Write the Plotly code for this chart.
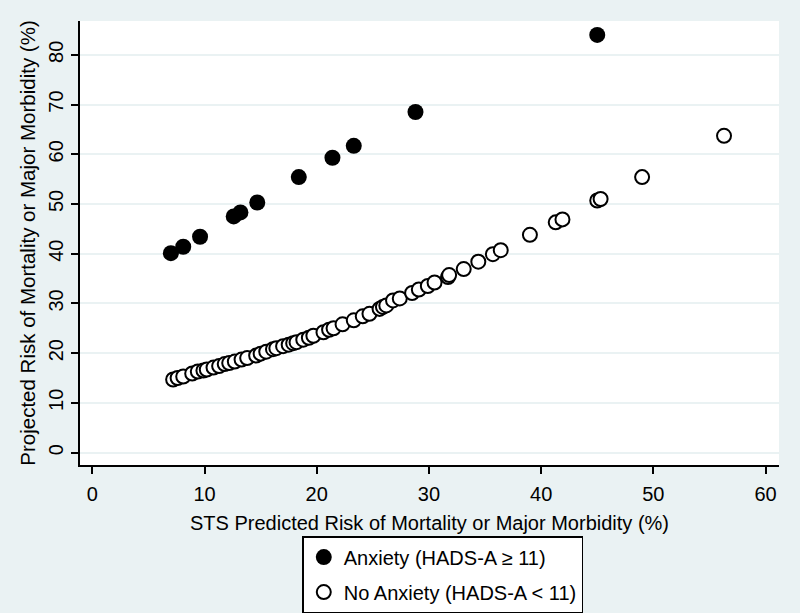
import plotly.graph_objects as go

# Anxiety (HADS-A >= 11)
x_anx = [7.0, 8.1, 9.6, 12.6, 13.2, 14.7, 18.4, 21.4, 23.3, 28.8, 45.0]
y_anx = [40.1, 41.4, 43.4, 47.5, 48.3, 50.3, 55.4, 59.3, 61.7, 68.5, 84.0]

# No Anxiety (HADS-A < 11)
x_no = [7.2, 7.6, 8.1, 8.9, 9.4, 9.9, 10.2, 10.8, 11.3, 11.8, 12.2, 12.7, 13.3, 13.8,
        14.6, 15.0, 15.5, 16.1, 16.4, 17.0, 17.5, 17.9, 18.2, 18.8, 19.3, 19.7, 20.6,
        21.1, 21.5, 22.3, 23.3, 24.1, 24.7, 25.6, 25.9, 26.2, 26.8, 27.4, 28.5, 29.1,
        29.9, 30.5, 31.7, 31.8, 33.1, 34.4, 35.7, 36.4, 39.0, 41.3, 41.9, 45.0, 45.3,
        49.0, 56.3]
y_no = [14.7, 15.0, 15.3, 15.9, 16.3, 16.5, 16.7, 17.1, 17.4, 17.8, 18.0, 18.3, 18.7, 19.0,
        19.5, 19.9, 20.3, 20.8, 21.0, 21.4, 21.7, 22.0, 22.2, 22.7, 23.1, 23.5, 24.2,
        24.7, 25.0, 25.8, 26.6, 27.4, 27.9, 28.9, 29.3, 29.6, 30.6, 31.0, 32.1, 32.8,
        33.5, 34.2, 35.3, 35.7, 36.9, 38.4, 39.9, 40.7, 43.8, 46.3, 46.9, 50.7, 51.0,
        55.4, 63.7]

x_ticks = [0, 10, 20, 30, 40, 50, 60]
y_ticks = [0, 10, 20, 30, 40, 50, 60, 70, 80]

FONT = "Liberation Sans, Arial, sans-serif"
BG = "#EAF2F3"

fig = go.Figure()
fig.add_trace(go.Scatter(
    x=x_anx, y=y_anx, mode="markers", name="Anxiety (HADS-A ≥ 11)",
    legendgroup="a",
    marker=dict(symbol="circle", size=16, color="black", line=dict(width=0)),
))
fig.add_trace(go.Scatter(
    x=x_no, y=y_no, mode="markers", name="No Anxiety (HADS-A < 11)",
    legendgroup="b",
    marker=dict(symbol="circle", size=14, color="white", line=dict(width=2, color="black")),
))

fig.update_layout(
    width=800, height=613,
    paper_bgcolor=BG, plot_bgcolor="white",
    font=dict(family=FONT, size=20, color="black"),
    margin=dict(l=80, r=21, t=21, b=148, autoexpand=False),
    showlegend=True,
    legend=dict(
        x=0.318, y=-0.160, xanchor="left", yanchor="top",
        bgcolor="white", bordercolor="black", borderwidth=1.5,
        font=dict(family=FONT, size=20, color="black"),
        tracegroupgap=6, itemwidth=30,
    ),
    xaxis=dict(
        range=[-1.1, 61.2], tickvals=x_ticks, ticks="outside", ticklen=7, tickwidth=1.5,
        tickcolor="black", showline=True, linecolor="black", linewidth=1.5,
        showgrid=False, zeroline=False, automargin=False, ticklabelstandoff=3,
        title=dict(text="STS Predicted Risk of Mortality or Major Morbidity (%)", standoff=12,
                   font=dict(size=20)),
        tickfont=dict(size=20),
    ),
    yaxis=dict(
        range=[-2.5, 86.8], tickvals=y_ticks, ticks="outside", ticklen=7, tickwidth=1.5,
        tickcolor="black", showline=True, linecolor="black", linewidth=1.5,
        showgrid=True, gridcolor=BG, gridwidth=1.5, zeroline=False, automargin=False,
        tickangle=-90,
        title=dict(text="Projected Risk of Mortality or Major Morbidity (%)", standoff=4,
                   font=dict(size=20.5)),
        tickfont=dict(size=20),
    ),
)

fig.write_html("out.html", config={"displayModeBar": False},
               post_script="document.body.style.margin='0px';")
